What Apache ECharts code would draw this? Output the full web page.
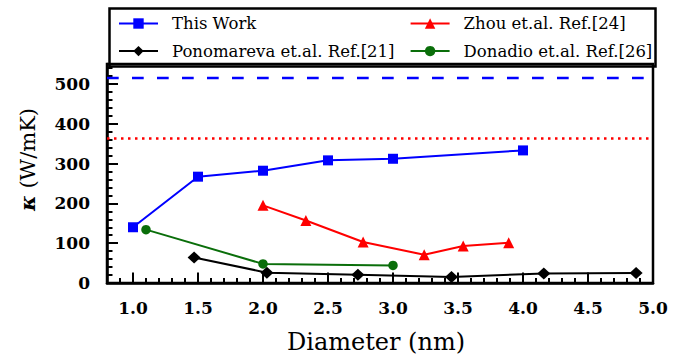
<!DOCTYPE html>
<html>
<head>
<meta charset="utf-8">
<script src="https://cdn.jsdelivr.net/npm/echarts@6/dist/echarts.min.js"></script>
<style>html,body{margin:0;padding:0;background:#fff}#chart{width:685px;height:360px}</style>
</head>
<body>
<div id="chart"></div>
<script>
// ---- data ----
const seriesNames = ['This Work', 'Zhou et.al. Ref.[24]', 'Ponomareva et.al. Ref.[21]', 'Donadio et.al. Ref.[26]'];
const thisWorkX = [1.0, 1.5, 2.0, 2.5, 3.0, 4.0];
const thisWorkY = [140, 267, 282, 308, 312, 333];
const zhouX = [2.0, 2.33, 2.77, 3.24, 3.54, 3.89];
const zhouY = [195, 157, 103, 71, 93, 101];
const ponoX = [1.47, 2.03, 2.73, 3.45, 4.16, 4.87];
const ponoY = [64, 26, 21, 15, 24, 25];
const donadioX = [1.1, 2.0, 3.0];
const donadioY = [134, 48, 44];
const bulkThisWork = 515;
const bulkZhou = 363;
const xTickLabels = [1.0, 1.5, 2.0, 2.5, 3.0, 3.5, 4.0, 4.5, 5.0];
const yTickLabels = [0, 100, 200, 300, 400, 500];
const xTitle = 'Diameter (nm)';
const yTitle = '{k|κ}{t| (W/mK)}';

function pairs(xs, ys) { return xs.map((x, i) => [x, ys[i]]); }

const FONT = 'DejaVu Serif';
const chart = echarts.init(document.getElementById('chart'), null, { renderer: 'svg' });

const lineSeries = (name, xs, ys, color, symbol, size, extra) => Object.assign({
  name, type: 'line', data: pairs(xs, ys), xAxisIndex: 0, yAxisIndex: 0,
  symbol, symbolSize: size, showAllSymbol: true,
  itemStyle: { color }, lineStyle: { color, width: 2 },
  emphasis: { disabled: true }, animation: false
}, extra || {});

chart.setOption({
  animation: false,
  grid: { left: 107, right: 32, top: 64, bottom: 77, show: true, borderColor: '#000', borderWidth: 2.5, containLabel: false },
  graphic: [{
    type: 'rect', left: 107, top: 6, z: 10,
    shape: { width: 546, height: 58 },
    style: { fill: 'none', stroke: '#000', lineWidth: 2.5 }
  }],
  legend: {
    left: 113, top: 10, width: 540, itemWidth: 39, itemHeight: 13, itemGap: 10.6,
    selectedMode: false,
    textStyle: { fontFamily: FONT, fontSize: 16.5, color: '#000', width: 227, lineHeight: 17, padding: [0, 0, 0, 9] },
    data: [
      { name: seriesNames[0] },
      { name: seriesNames[1], textStyle: { width: 185 } },
      { name: seriesNames[2] },
      { name: seriesNames[3], textStyle: { width: 185 } }
    ]
  },
  xAxis: [{
    type: 'value', min: 0.8, max: 5.0, position: 'bottom',
    name: xTitle, nameLocation: 'middle', nameGap: 47,
    nameTextStyle: { fontFamily: FONT, fontSize: 24, color: '#000', padding: [0, 8, 0, 0] },
    axisLine: { show: true, lineStyle: { color: '#000', width: 2.5 } },
    axisTick: { show: true, inside: true, length: 10.5, customValues: xTickLabels, lineStyle: { color: '#000', width: 2 } },
    axisLabel: { customValues: xTickLabels, margin: 16, fontFamily: FONT, fontWeight: 'bold', fontSize: 17, color: '#000', formatter: v => v.toFixed(1) },
    splitLine: { show: false }
  }, {
    type: 'value', min: 0.8, max: 5.0, interval: 0.1, position: 'bottom',
    axisLine: { show: false },
    axisTick: { show: true, inside: true, length: 5, lineStyle: { color: '#000', width: 2 } },
    axisLabel: { show: false }, splitLine: { show: false }
  }],
  yAxis: [{
    type: 'value', min: 0, max: 550, position: 'left',
    name: yTitle, nameLocation: 'middle', nameGap: 69, nameRotate: 90,
    nameTextStyle: { fontFamily: FONT, fontSize: 21, color: '#000', padding: [0, 0, 0, 28],
      rich: {
        k: { fontWeight: 'bold', fontStyle: 'italic', fontSize: 21, color: '#000' },
        t: { fontSize: 21, color: '#000' }
      } },
    axisLine: { show: true, lineStyle: { color: '#000', width: 2.5 } },
    axisTick: { show: true, inside: true, length: 11, customValues: yTickLabels, lineStyle: { color: '#000', width: 2 } },
    axisLabel: { customValues: yTickLabels, margin: 17, fontFamily: FONT, fontWeight: 'bold', fontSize: 17, color: '#000' },
    splitLine: { show: false }
  }, {
    type: 'value', min: 0, max: 550, interval: 20, position: 'left',
    axisLine: { show: false },
    axisTick: { show: true, inside: true, length: 5.5, lineStyle: { color: '#000', width: 2 } },
    axisLabel: { show: false }, splitLine: { show: false }
  }],
  series: [
    lineSeries(seriesNames[0], thisWorkX, thisWorkY, '#0000ff', 'rect', 10, {
      markLine: { silent: true, symbol: 'none', label: { show: false }, animation: false,
        lineStyle: { color: '#0000ff', width: 2.3, type: [11.7, 13.3] }, data: [{ yAxis: bulkThisWork }] }
    }),
    lineSeries(seriesNames[1], zhouX, zhouY, '#ff0000', 'triangle', 11, {
      markLine: { silent: true, symbol: 'none', label: { show: false }, animation: false,
        lineStyle: { color: '#ff0000', width: 2.5, type: [2.5, 4.5] }, data: [{ yAxis: bulkZhou }] }
    }),
    lineSeries(seriesNames[2], ponoX, ponoY, '#000000', 'diamond', [13, 12]),
    lineSeries(seriesNames[3], donadioX, donadioY, '#0a6e0a', 'circle', 9.5)
  ]
});
</script>
</body>
</html>
